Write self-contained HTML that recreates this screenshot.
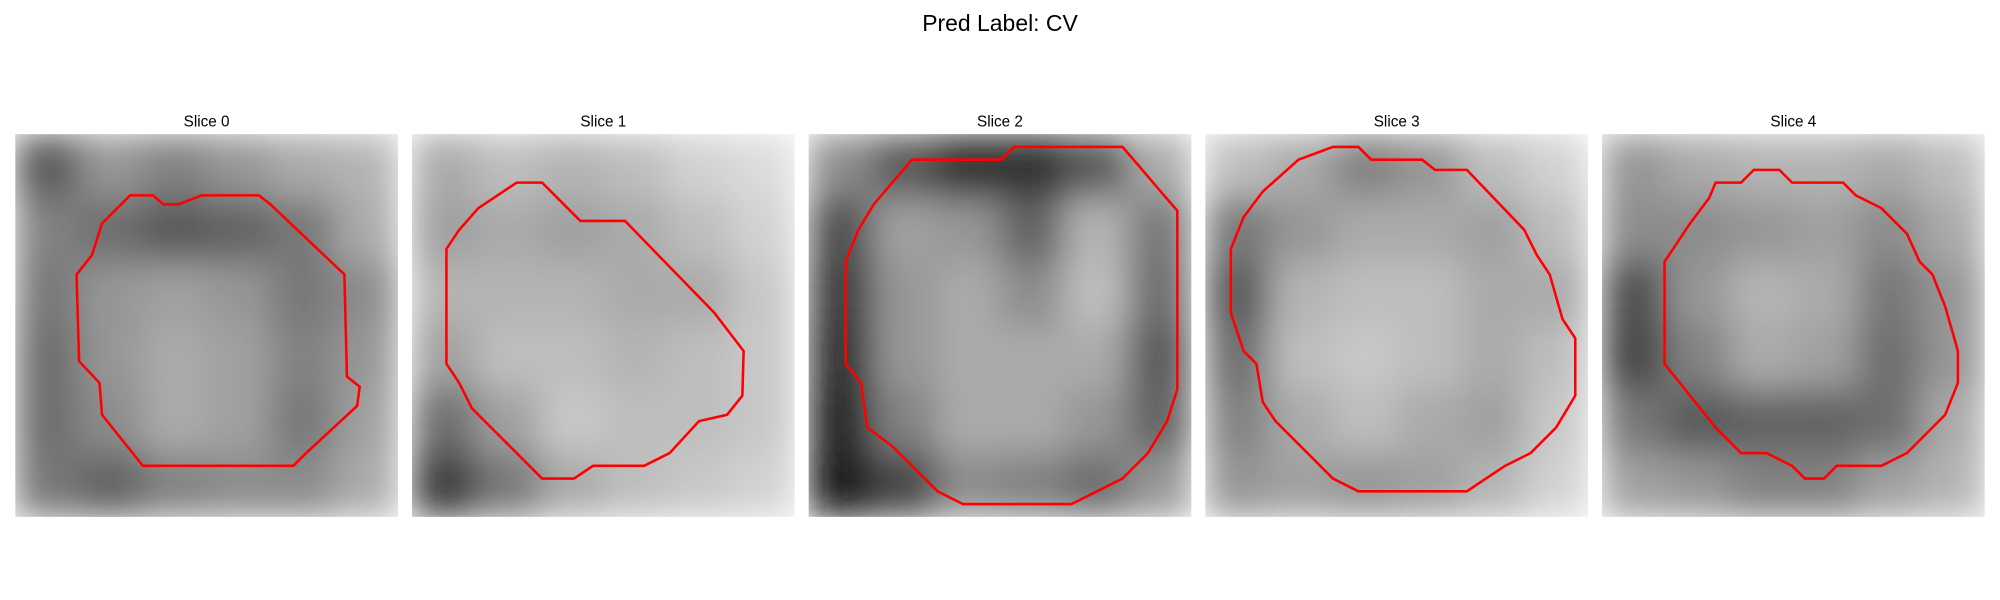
<!DOCTYPE html>
<html><head><meta charset="utf-8"><style>
html,body{margin:0;padding:0;background:#fff;}
svg{display:block;}
text{font-family:"Liberation Sans","DejaVu Sans",sans-serif;fill:#000;}
</style></head><body>
<svg id="fig" width="2000" height="600" viewBox="0 0 1568 470" xmlns="http://www.w3.org/2000/svg">
<defs>
<filter id="blur" x="0" y="0" width="1" height="1"><feGaussianBlur stdDeviation="14" edgeMode="duplicate"/></filter>
</defs>
<text x="784" y="24" font-size="18" text-anchor="middle">Pred Label: CV</text>
<g id="panels"></g>
</svg>
<script>
const sliceTitles = ["Slice 0","Slice 1","Slice 2","Slice 3","Slice 4"];
const grays = [
 [[90,150,130,150,170,180],[130,110,90,100,120,170],[120,150,160,150,120,140],[110,150,170,160,130,150],[110,140,170,160,120,160],[120,100,130,140,140,170]],
 [[170,190,180,190,210,220],[160,170,160,170,190,210],[180,180,180,170,170,200],[160,190,190,180,190,200],[110,160,200,190,190,200],[60,120,170,190,200,210]],
 [[140,90,50,50,90,170],[80,160,150,100,180,120],[60,150,170,140,190,110],[50,150,170,170,170,90],[40,130,170,170,150,100],[30,70,140,130,110,150]],
 [[190,170,130,150,190,210],[120,150,170,170,160,190],[90,180,190,190,170,170],[110,190,200,190,170,190],[130,170,190,170,160,200],[150,160,150,160,180,210]],
 [[150,170,180,180,170,190],[140,140,150,160,140,170],[80,150,180,170,120,150],[70,130,170,160,110,150],[120,90,100,100,110,170],[160,150,130,130,160,180]]
];
const contours = [
 [[9,4.8],[10.8,4.8],[11.6,5.5],[12.8,5.5],[14.6,4.8],[19.1,4.8],[20,5.5],[25.8,11],[26,19],[27,19.8],[26.8,21.3],[22.8,25],[21.8,26],[10,26],[8.8,24.5],[6.8,22],[6.6,19.5],[5,17.8],[4.8,11],[6,9.5],[6.8,7]],
 [[8.2,3.8],[10.2,3.8],[13.2,6.8],[16.7,6.8],[23.7,14],[26,17],[25.9,20.5],[24.7,22],[22.5,22.5],[20.2,25],[18.2,26],[14.2,26],[12.7,27],[10.2,27],[4.7,21.5],[3.7,19.5],[2.7,18],[2.7,9],[3.7,7.5],[5.2,5.8]],
 [[8.1,2],[15.1,2],[16.1,1],[24.6,1],[25.9,2.5],[27.6,4.5],[28.9,6],[28.9,20],[28.1,22.5],[26.6,25],[24.6,27],[22.6,28],[20.6,29],[12.1,29],[10.1,28],[6.6,24.5],[4.6,23],[4.1,19.5],[2.9,18],[2.9,10],[3.9,7.5],[5.1,5.5]],
 [[7.3,2],[10,1],[12,1],[13,2],[17,2],[18,2.8],[20.5,2.8],[25,7.5],[26,9.5],[27,11],[28,14.5],[29,16],[29,20.5],[27.5,23],[25.5,25],[23.5,26],[22,27],[20.5,28],[12,28],[10,27],[5.5,22.5],[4.5,21],[4,18],[3,17],[2,14],[2,9],[3,6.5],[4.5,4.5]],
 [[8.9,3.8],[10.9,3.8],[11.9,2.8],[13.9,2.8],[14.9,3.8],[18.9,3.8],[19.9,4.8],[21.9,5.8],[23.9,7.8],[24.9,10],[25.9,11],[26.9,13.5],[27.9,17],[27.9,19.5],[26.9,22],[23.9,25],[21.9,26],[18.4,26],[17.4,27],[15.9,27],[14.9,26],[12.9,25],[10.9,25],[8.9,23],[6.9,20.5],[4.9,18],[4.9,10],[6.9,7],[8.4,5]]
];
const NS="http://www.w3.org/2000/svg";
const panelX0=12, panelStep=311, panelY0=105, panelSize=300, gridUnits=30;
const g=document.getElementById('panels');
sliceTitles.forEach((t,i)=>{
  const px=panelX0+i*panelStep;
  const grp=document.createElementNS(NS,'g');
  
  
  const tt=document.createElementNS(NS,'text');
  
  
  tt.setAttribute('x',px+panelSize/2);tt.setAttribute('y',99);
  tt.setAttribute('font-size','12');tt.setAttribute('text-anchor','middle');
  tt.textContent=t;grp.appendChild(tt);
  const img=document.createElementNS(NS,'g');
  
  
  const sub=document.createElementNS(NS,'svg');
  sub.setAttribute('x',px);sub.setAttribute('y',panelY0);
  sub.setAttribute('width',panelSize);sub.setAttribute('height',panelSize);
  const inner=document.createElementNS(NS,'g');inner.setAttribute('filter','url(#blur)');
  const gr=grays[i], n=gr.length, cs=panelSize/n;
  gr.forEach((row,r)=>row.forEach((v,c)=>{
    const rc=document.createElementNS(NS,'rect');
    
    
    rc.setAttribute('x',c*cs);rc.setAttribute('y',r*cs);
    rc.setAttribute('width',cs+0.5);rc.setAttribute('height',cs+0.5);
    rc.setAttribute('fill','rgb('+v+','+v+','+v+')');
    inner.appendChild(rc);
  }));
  sub.appendChild(inner);img.appendChild(sub);grp.appendChild(img);
  const u=panelSize/gridUnits;
  const pl=document.createElementNS(NS,'polygon');
  
  
  pl.setAttribute('points',contours[i].map(p=>(px+p[0]*u)+','+(panelY0+p[1]*u)).join(' '));
  pl.setAttribute('fill','none');pl.setAttribute('stroke','#ff0000');pl.setAttribute('stroke-width','2');
  grp.appendChild(pl);
  g.appendChild(grp);
});
</script>
</body></html>
